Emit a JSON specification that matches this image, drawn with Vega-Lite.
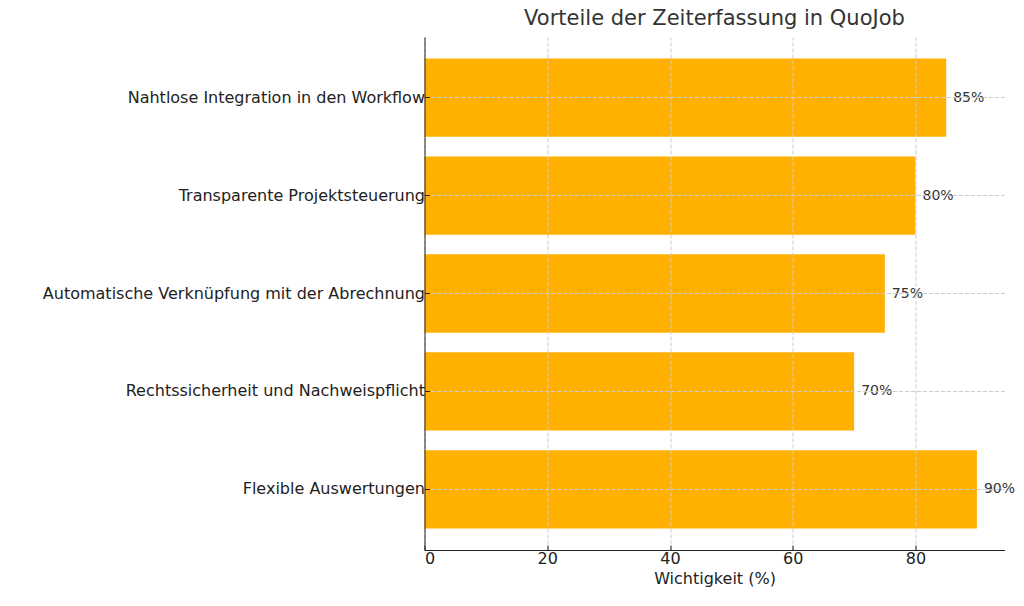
{
  "$schema": "https://vega.github.io/schema/vega-lite/v6.json",
  "width": 580,
  "height": 513,
  "padding": {"left": 424.5, "top": 37, "right": 19.5, "bottom": 56},
  "autosize": "none",
  "background": "white",
  "title": {
    "text": "Vorteile der Zeiterfassung in QuoJob",
    "font": "DejaVu Sans",
    "fontSize": 21,
    "fontWeight": "normal",
    "color": "#333333",
    "anchor": "middle",
    "offset": 8
  },
  "data": {
    "values": [
      {"Vorteil": "Nahtlose Integration in den Workflow", "Wichtigkeit": 85, "Label": "85%"},
      {"Vorteil": "Transparente Projektsteuerung", "Wichtigkeit": 80, "Label": "80%"},
      {"Vorteil": "Automatische Verknüpfung mit der Abrechnung", "Wichtigkeit": 75, "Label": "75%"},
      {"Vorteil": "Rechtssicherheit und Nachweispflicht", "Wichtigkeit": 70, "Label": "70%"},
      {"Vorteil": "Flexible Auswertungen", "Wichtigkeit": 90, "Label": "90%"}
    ]
  },
  "encoding": {
    "y": {
      "field": "Vorteil",
      "type": "nominal",
      "sort": null,
      "scale": {"paddingInner": 0.2, "paddingOuter": 0.22},
      "axis": {
        "title": null,
        "labelFont": "DejaVu Sans",
        "labelFontSize": 16,
        "labelColor": "#222222",
        "labelLimit": 450,
        "labelPadding": 5,
        "tickSize": -5,
        "tickColor": "#222222",
        "domainColor": "#222222",
        "grid": true,
        "gridColor": "#cccccc",
        "gridDash": [4, 2],
        "zindex": 1
      }
    }
  },
  "layer": [
    {
      "mark": {"type": "bar", "color": "#FFB000"},
      "encoding": {
        "x": {
          "field": "Wichtigkeit",
          "type": "quantitative",
          "scale": {"domain": [0, 94.5], "nice": false},
          "axis": {
            "title": "Wichtigkeit (%)",
            "titleFont": "DejaVu Sans",
            "titleFontSize": 16,
            "titleFontWeight": "normal",
            "titleColor": "#222222",
            "labelFont": "DejaVu Sans",
            "labelFontSize": 16,
            "labelColor": "#222222",
            "labelPadding": 5,
            "values": [0, 20, 40, 60, 80],
            "tickSize": -5,
            "tickColor": "#222222",
            "domainColor": "#222222",
            "grid": true,
            "gridColor": "#cccccc",
            "gridDash": [4, 2],
            "zindex": 1
          }
        }
      }
    },
    {
      "mark": {"type": "text", "align": "left", "dx": 7, "font": "DejaVu Sans", "fontSize": 14, "color": "#333333"},
      "encoding": {
        "x": {"field": "Wichtigkeit", "type": "quantitative"},
        "text": {"field": "Label", "type": "nominal"}
      }
    }
  ],
  "config": {"view": {"stroke": null}}
}
